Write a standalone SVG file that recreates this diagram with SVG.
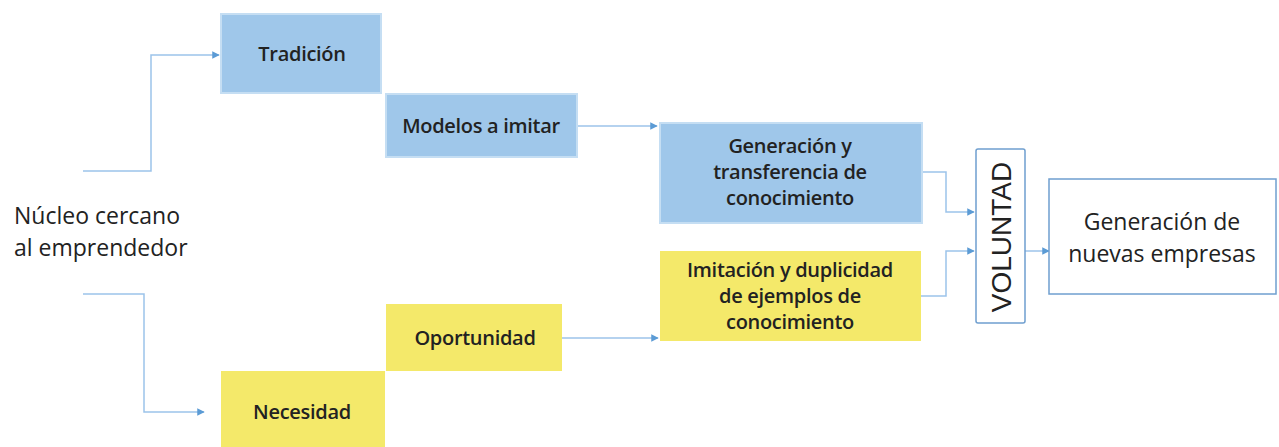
<svg xmlns="http://www.w3.org/2000/svg" width="1279" height="447" viewBox="0 0 1279 447">
<defs>
<style>
text{font-family:"Open Sans","Liberation Sans",sans-serif;fill:#222;text-anchor:middle}
.blue{fill:#9fc7ea;stroke:#c5def3;stroke-width:2}
.yel{fill:#f4e96a;stroke:none}
.wb{fill:#fff;stroke:#6f9fcf;stroke-width:1.5}
.conn{fill:none;stroke:#9cc3ea;stroke-width:1.5}
.t17{font-size:20px;font-weight:600;letter-spacing:-0.3px}
.t20{font-size:23px}
</style>
<marker id="ah" viewBox="0 0 10 10" refX="9" refY="5" markerWidth="5" markerHeight="5" orient="auto"><path d="M0,0 L10,5 L0,10 z" fill="#5b9bd5"/></marker>
</defs>
<rect width="1279" height="447" fill="#fff"/>
<g id="connectors">
<path class="conn" d="M83,171 H151 V55 H219" marker-end="url(#ah)"/>
<path class="conn" d="M83,294 H144 V412 H204" marker-end="url(#ah)"/>
<path class="conn" d="M577,126 H657" marker-end="url(#ah)"/>
<path class="conn" d="M562,338 H658" marker-end="url(#ah)"/>
<path class="conn" d="M922,172 H946 V212 H974" marker-end="url(#ah)"/>
<path class="conn" d="M921,296 H946 V251 H974" marker-end="url(#ah)"/>
<path class="conn" d="M1025,251 H1049" marker-end="url(#ah)"/>
</g>
<g id="nucleo">
<text class="t20" x="14" y="224" style="text-anchor:start">Núcleo cercano</text>
<text class="t20" x="14" y="256" style="text-anchor:start">al emprendedor</text>
</g>
<g id="tradicion">
<rect class="blue" x="221" y="14" width="160" height="79"/>
<text class="t17" x="302" y="61">Tradición</text>
</g>
<g id="modelos">
<rect class="blue" x="386" y="94" width="191" height="63"/>
<text class="t17" x="481" y="133">Modelos a imitar</text>
</g>
<g id="generacion">
<rect class="blue" x="660" y="123" width="262" height="100"/>
<text class="t17" x="790" y="153">Generación y</text>
<text class="t17" x="790" y="179">transferencia de</text>
<text class="t17" x="790" y="205">conocimiento</text>
</g>
<g id="imitacion">
<rect class="yel" x="660" y="251" width="261" height="90"/>
<text class="t17" x="790" y="277">Imitación y duplicidad</text>
<text class="t17" x="790" y="303">de ejemplos de</text>
<text class="t17" x="790" y="329">conocimiento</text>
</g>
<g id="oportunidad">
<rect class="yel" x="386" y="304" width="176" height="67"/>
<text class="t17" x="475" y="345">Oportunidad</text>
</g>
<g id="necesidad">
<rect class="yel" x="221" y="371" width="164" height="76"/>
<text class="t17" x="302" y="419">Necesidad</text>
</g>
<g id="voluntad">
<rect class="wb" x="976" y="149" width="49" height="174" rx="2"/>
<text transform="translate(1011,237) rotate(-90)" style="font-size:28px;font-family:'Liberation Sans',sans-serif">VOLUNTAD</text>
</g>
<g id="nuevas">
<rect class="wb" x="1049" y="179" width="227" height="115"/>
<text class="t20" x="1162" y="230">Generación de</text>
<text class="t20" x="1162" y="262">nuevas empresas</text>
</g>
</svg>
